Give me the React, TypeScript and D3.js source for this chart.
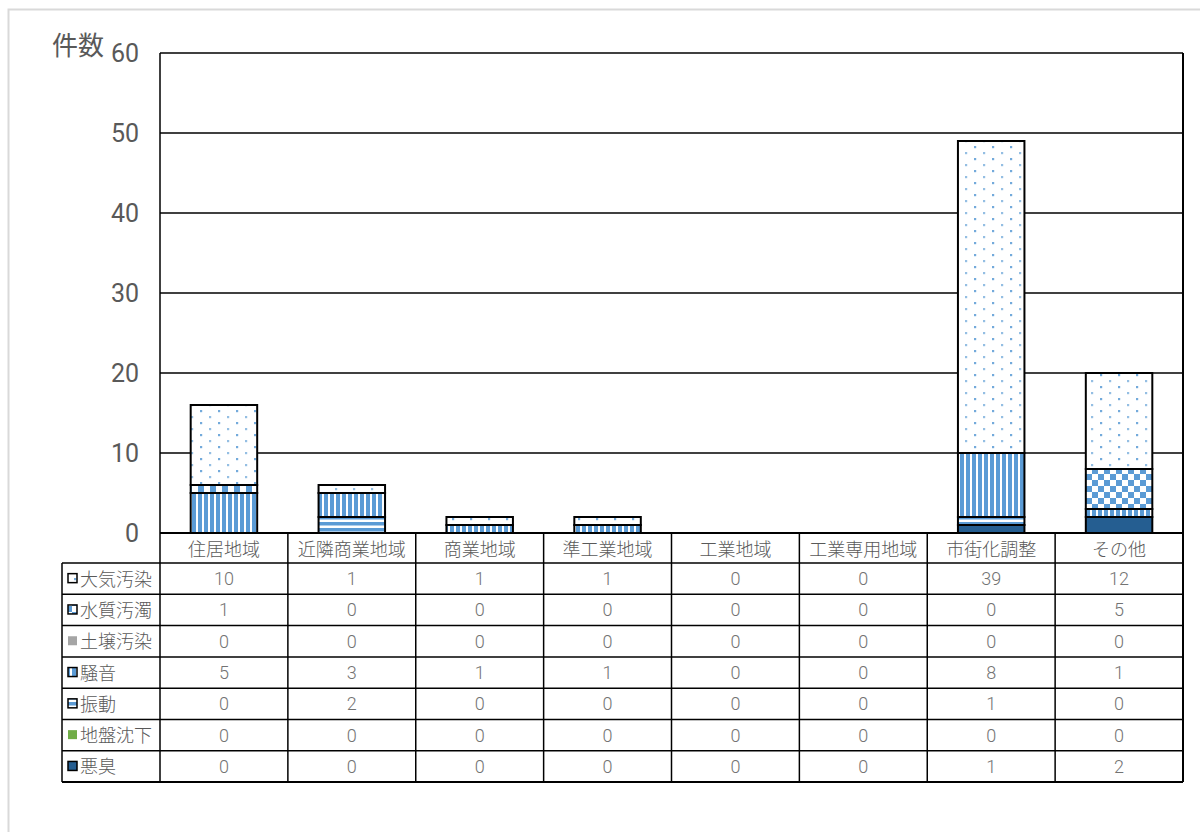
import React from "react";
import * as d3 from "d3";

const categories = ["住居地域", "近隣商業地域", "商業地域", "準工業地域", "工業地域", "工業専用地域", "市街化調整", "その他"];
const seriesNames = ["大気汚染", "水質汚濁", "土壌汚染", "騒音", "振動", "地盤沈下", "悪臭"];
const airValues = [10, 1, 1, 1, 0, 0, 39, 12];
const waterValues = [1, 0, 0, 0, 0, 0, 0, 5];
const soilValues = [0, 0, 0, 0, 0, 0, 0, 0];
const noiseValues = [5, 3, 1, 1, 0, 0, 8, 1];
const vibrationValues = [0, 2, 0, 0, 0, 0, 1, 0];
const subsidenceValues = [0, 0, 0, 0, 0, 0, 0, 0];
const odorValues = [0, 0, 0, 0, 0, 0, 1, 2];
const yTicks = [0, 10, 20, 30, 40, 50, 60];

const seriesValues = [airValues, waterValues, soilValues, noiseValues, vibrationValues, subsidenceValues, odorValues];
const fills = ["url(#pDots)", "url(#pCheck)", "#a5a5a5", "url(#pVert)", "url(#pHoriz)", "#70ad47", "#255e91"];
// stacking order from the bottom up
const stackOrder = [6, 5, 4, 3, 2, 1, 0];

const BLUE = "#5b9bd5";
const TEXT = "#595959";
const FONT = "'Noto Sans CJK JP', 'Noto Sans', sans-serif";
const NUM_FONT = "'Roboto', sans-serif";

export default function App() {
  const left = 160, right = 1183, top = 53, bottom = 533;
  const tableLeft = 62;
  const headerH = 30;
  const rowH = 31.3;

  const x = d3.scaleBand<string>().domain(categories).range([left, right]).paddingInner(0).paddingOuter(0);
  const y = d3.scaleLinear().domain([0, 60]).range([bottom, top]);
  const barW = x.bandwidth() * 0.52;

  const rows = categories.map((c, i) => {
    const r: any = { cat: c };
    seriesNames.forEach((s, k) => (r[s] = seriesValues[k][i]));
    return r;
  });
  const stack = d3.stack<any>().keys(stackOrder.map((k) => seriesNames[k]));
  const layers = stack(rows);

  const tableTop = bottom + headerH;
  const tableBottom = tableTop + rowH * seriesNames.length;

  return (
    <svg width={1200} height={832} style={{ position: "absolute", left: 0, top: 0, display: "block", fontFamily: FONT }}>
      <defs>
        <pattern id="pDots" width={18} height={12} patternUnits="userSpaceOnUse">
          <rect width={18} height={12} fill="#fff" />
          <rect x={2} y={2} width={2.2} height={2.2} fill={BLUE} opacity={0.85} />
          <rect x={11} y={8} width={2.2} height={2.2} fill={BLUE} opacity={0.65} />
        </pattern>
        <pattern id="pVert" width={6} height={6} patternUnits="userSpaceOnUse">
          <rect width={6} height={6} fill="#fff" />
          <rect x={0} width={4} height={6} fill={BLUE} />
        </pattern>
        <pattern id="pHoriz" width={6} height={6} patternUnits="userSpaceOnUse">
          <rect width={6} height={6} fill="#fff" />
          <rect y={0} width={6} height={3.5} fill={BLUE} />
        </pattern>
        <pattern id="pCheck" width={12} height={12} patternUnits="userSpaceOnUse">
          <rect width={12} height={12} fill="#fff" />
          <rect x={0} y={0} width={6} height={6} fill={BLUE} />
          <rect x={6} y={6} width={6} height={6} fill={BLUE} />
        </pattern>
      </defs>

      <rect width={1200} height={832} fill="#fff" />
      {/* outer frame */}
      <rect x={8.5} y={9.5} width={1200} height={830} fill="#fff" stroke="#d9d9d9" strokeWidth={2} />

      {/* gridlines */}
      {yTicks.map((t) => (
        <line key={t} x1={left} x2={right} y1={y(t)} y2={y(t)} stroke="#000" strokeWidth={1.5} />
      ))}
      <line x1={left} x2={left} y1={top} y2={bottom} stroke="#000" strokeWidth={1.5} />
      <line x1={right} x2={right} y1={top} y2={bottom} stroke="#000" strokeWidth={2} />

      {/* y tick labels */}
      {yTicks.map((t) => (
        <text key={t} x={139} y={y(t) + 9} textAnchor="end" fontSize={25} fill={TEXT} fontFamily={NUM_FONT}>
          {t}
        </text>
      ))}
      <text x={52} y={55} fontSize={26} fill={TEXT}>件数</text>

      {/* stacked bars */}
      {layers.map((layer, li) => {
        const k = stackOrder[li];
        return (
          <g key={layer.key}>
            {layer.map((d, i) => {
              const h = y(d[0]) - y(d[1]);
              if (h <= 0) return null;
              const cx = (x(categories[i]) as number) + x.bandwidth() / 2;
              return (
                <rect
                  key={i}
                  x={cx - barW / 2}
                  y={y(d[1])}
                  width={barW}
                  height={h}
                  fill={fills[k]}
                  stroke="#000"
                  strokeWidth={2}
                />
              );
            })}
          </g>
        );
      })}

      {/* data table */}
      <g>
        <line x1={left} x2={right} y1={bottom} y2={bottom} stroke="#000" strokeWidth={2} />
        {seriesNames.map((_, r) => (
          <line key={r} x1={tableLeft} x2={right} y1={tableTop + r * rowH} y2={tableTop + r * rowH} stroke="#000" strokeWidth={1.5} />
        ))}
        <line x1={tableLeft} x2={right} y1={tableBottom} y2={tableBottom} stroke="#000" strokeWidth={2} />
        <line x1={tableLeft} x2={tableLeft} y1={tableTop} y2={tableBottom} stroke="#000" strokeWidth={1.5} />
        {categories.map((c) => (
          <line key={c} x1={x(c) as number} x2={x(c) as number} y1={bottom} y2={tableBottom} stroke="#000" strokeWidth={1.5} />
        ))}
        <line x1={right} x2={right} y1={bottom} y2={tableBottom} stroke="#000" strokeWidth={2} />

        {categories.map((c) => (
          <text key={c} x={(x(c) as number) + x.bandwidth() / 2} y={bottom + 23} textAnchor="middle" fontSize={18} fill={TEXT} fontWeight={300}>
            {c}
          </text>
        ))}

        {seriesNames.map((s, r) => {
          const cy = tableTop + r * rowH + rowH / 2;
          return (
            <g key={s}>
              <rect x={68} y={cy - 5} width={9} height={9} fill={fills[r]} stroke={r === 2 || r === 5 ? "none" : "#000"} strokeWidth={1.5} />
              <text x={80} y={cy + 7} fontSize={18} fill={TEXT} fontWeight={300}>{s}</text>
              {categories.map((c, i) => (
                <text key={c} x={(x(c) as number) + x.bandwidth() / 2} y={cy + 6.5} textAnchor="middle" fontSize={18} fill="#737373" fontWeight={300} fontFamily={NUM_FONT}>
                  {seriesValues[r][i]}
                </text>
              ))}
            </g>
          );
        })}
      </g>
    </svg>
  );
}
